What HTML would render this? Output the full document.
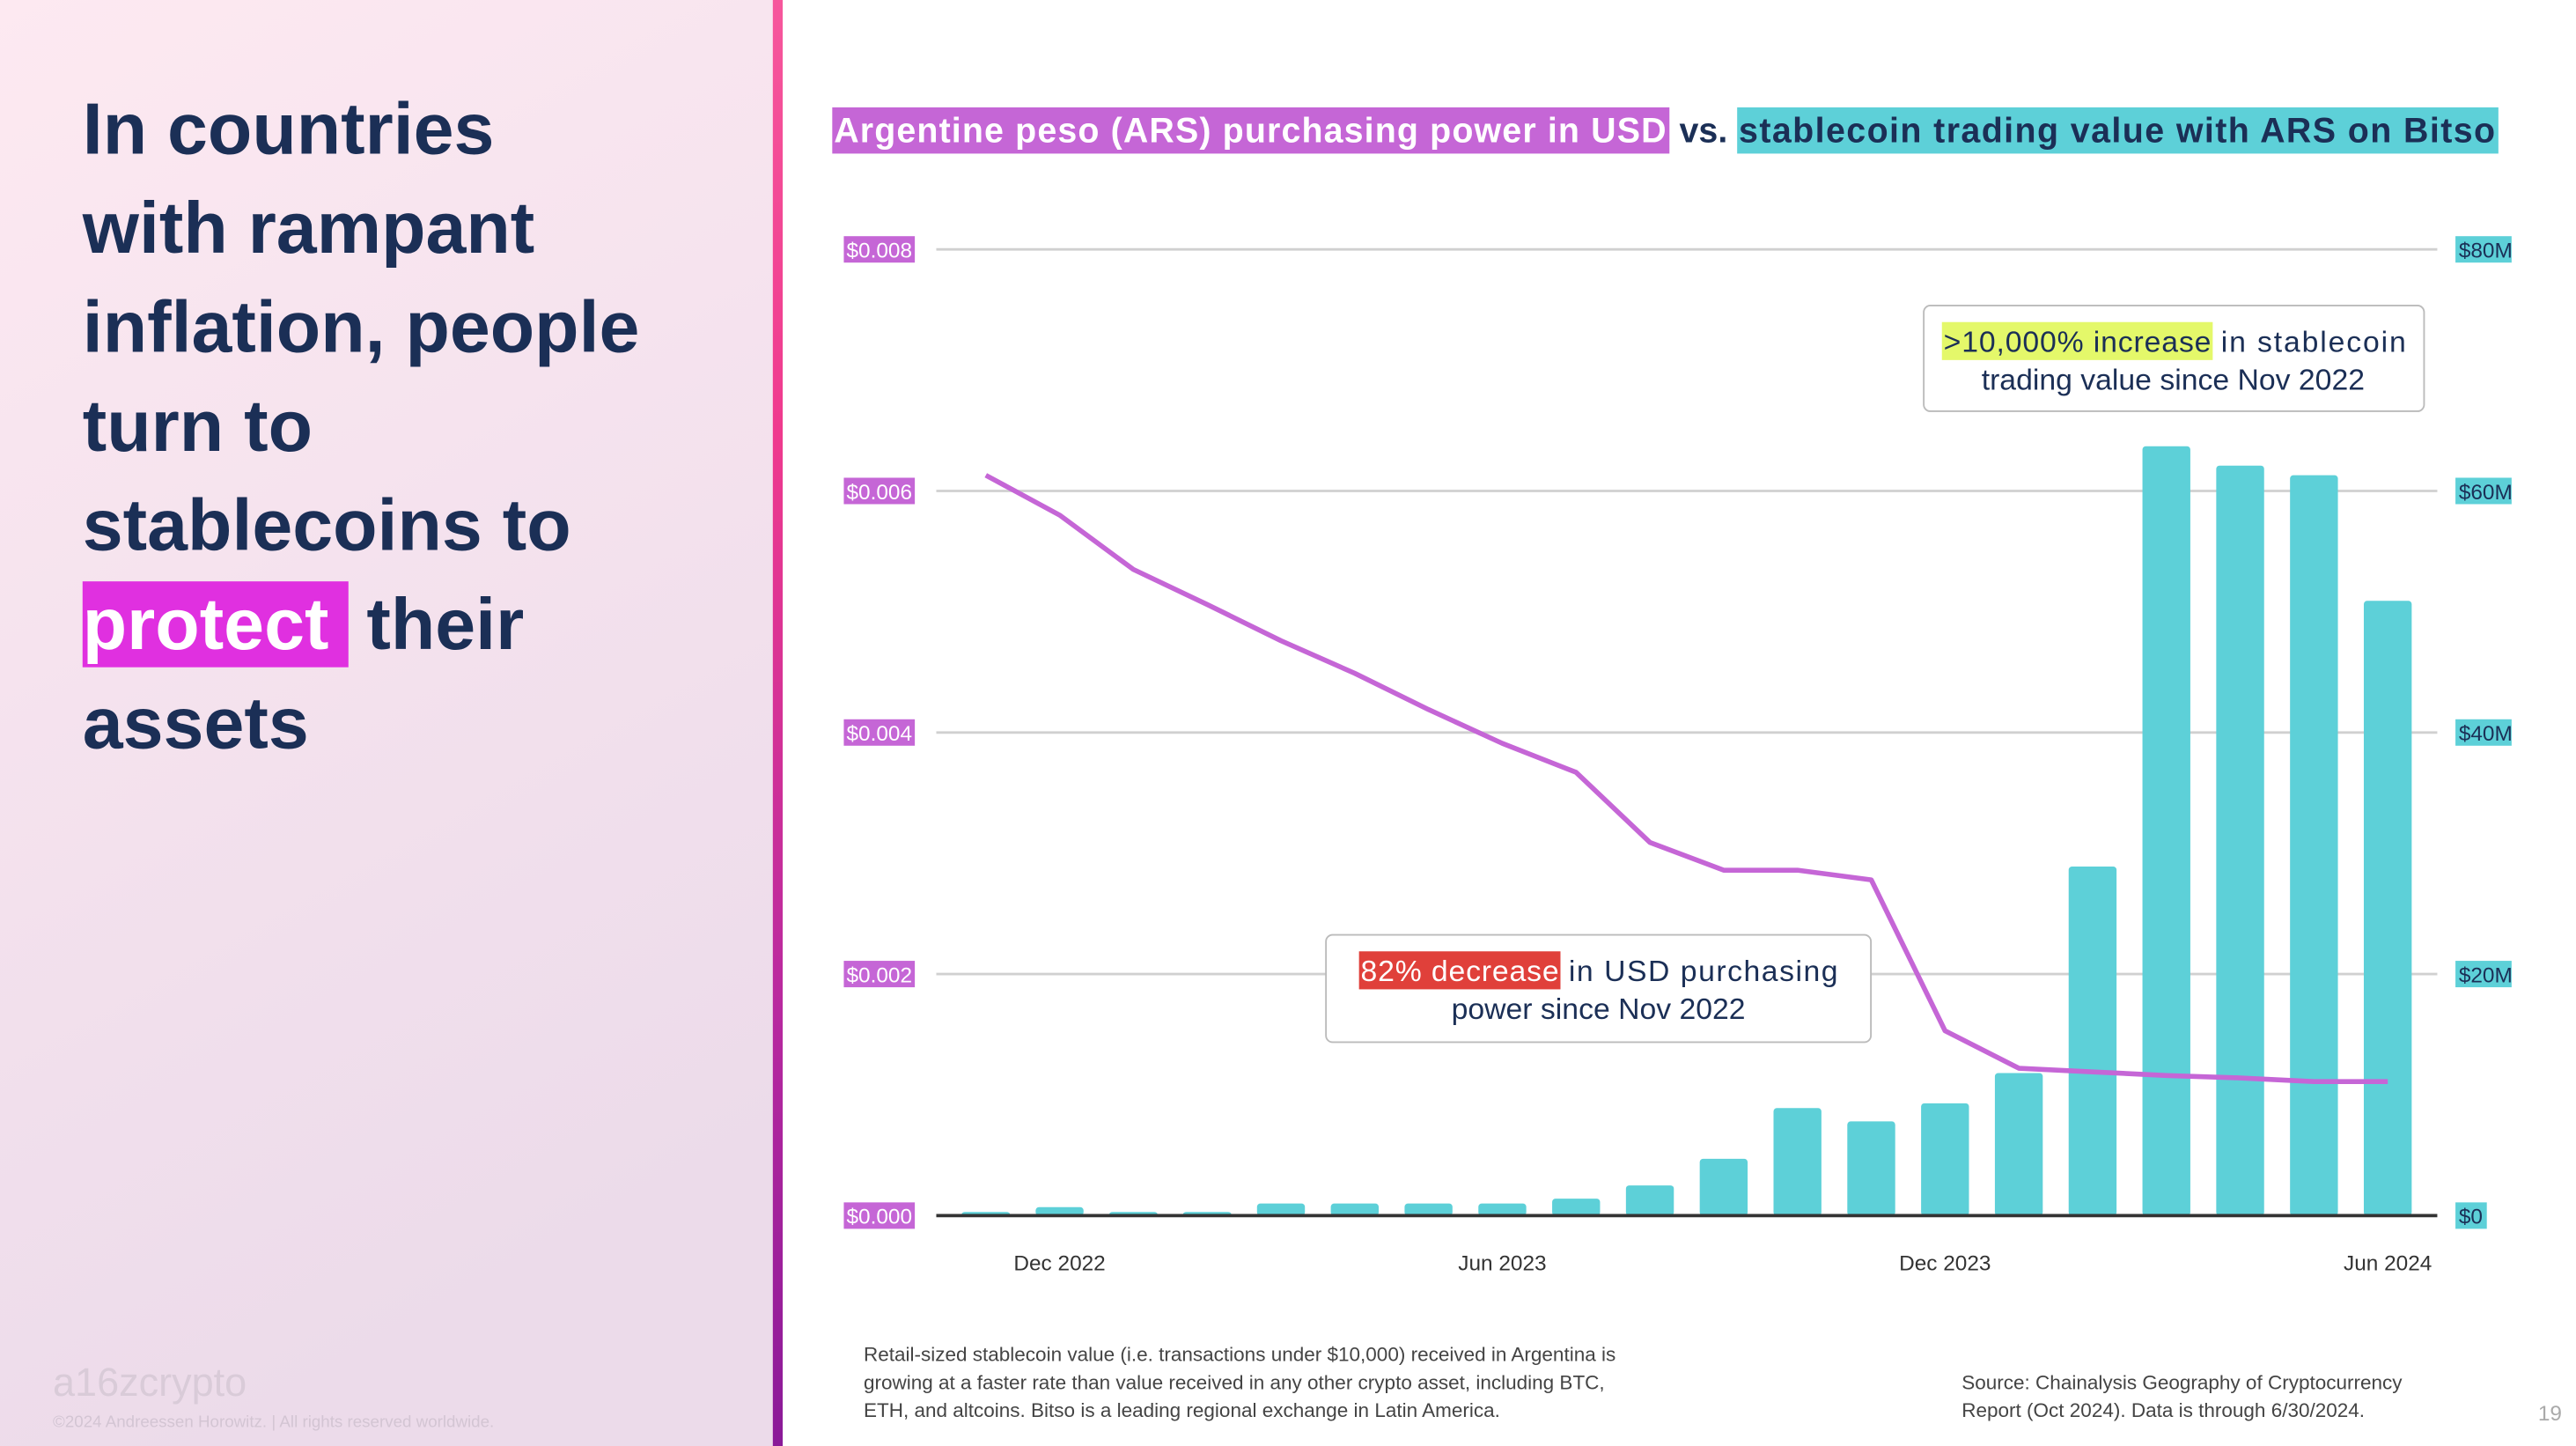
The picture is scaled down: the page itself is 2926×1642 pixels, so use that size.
<!DOCTYPE html>
<html><head><meta charset="utf-8"><style>
html,body{margin:0;padding:0;background:#fff}
svg{display:block}
text{font-family:"Liberation Sans",sans-serif}
</style></head><body>
<svg id="chart" width="2926" height="1642" viewBox="0 0 1560 875.5" preserveAspectRatio="none" xmlns="http://www.w3.org/2000/svg">
<defs>
<linearGradient id="lp" x1="0" y1="0" x2="0.3" y2="1"><stop offset="0" stop-color="#fde9f1"/><stop offset="1" stop-color="#ecdbea"/></linearGradient>
<linearGradient id="vb" x1="0" y1="0" x2="0" y2="1"><stop offset="0" stop-color="#f6579c"/><stop offset="0.3" stop-color="#ef3a8e"/><stop offset="0.7" stop-color="#b8299f"/><stop offset="1" stop-color="#8a1a98"/></linearGradient>
</defs>
<rect x="0" y="0" width="468" height="875.5" fill="url(#lp)"/>
<rect x="468" y="0" width="6" height="875.5" fill="url(#vb)"/>
<g font-size="44" font-weight="bold" fill="#1b2f56">
<text x="50" y="93">In countries</text>
<text x="50" y="153">with rampant</text>
<text x="50" y="213">inflation, people</text>
<text x="50" y="273">turn to</text>
<text x="50" y="333">stablecoins to</text>
<rect x="50" y="352" width="161" height="52" fill="#e030e0"/>
<text x="50" y="393" fill="#fff">protect</text>
<text x="222" y="393">their</text>
<text x="50" y="453">assets</text>
</g>
<text x="32" y="845" font-size="24" fill="#d9cbd8">a16zcrypto</text>
<text x="32" y="864" font-size="10" fill="#d3c5d3">©2024 Andreessen Horowitz.  |  All rights reserved worldwide.</text>
<g font-size="21" font-weight="bold">
<rect x="504" y="65" width="507" height="28" fill="#c566d6"/>
<text x="505" y="86" fill="#fff" textLength="504">Argentine peso (ARS) purchasing power in USD</text>
<text x="1017" y="86" fill="#1b2f56">vs.</text>
<rect x="1052" y="65" width="461" height="28" fill="#5dd0d8"/>
<text x="1053" y="86" fill="#1b2f56" textLength="458">stablecoin trading value with ARS on Bitso</text>
</g>
<g id="grid"></g><g id="bars"></g><g id="line"></g><g id="axes"></g>
<g>
<rect x="1165" y="185" width="303" height="64" rx="4" fill="#fff" stroke="#bbb"/>
<rect x="1176" y="195" width="164" height="23" fill="#e4f86a"/>
<text x="1177" y="213" font-size="18" fill="#1b2f56" textLength="162">&gt;10,000% increase</text>
<text x="1345" y="213" font-size="18" fill="#1b2f56" textLength="112">in stablecoin</text>
<text x="1316" y="236" font-size="18" fill="#1b2f56" text-anchor="middle">trading value since Nov 2022</text>
</g>
<g>
<rect x="803" y="566" width="330" height="65" rx="4" fill="#fff" stroke="#bbb"/>
<rect x="823" y="576" width="122" height="23" fill="#e0403a"/>
<text x="824" y="594" font-size="18" fill="#fff" textLength="120">82% decrease</text>
<text x="950" y="594" font-size="18" fill="#1b2f56" textLength="163">in USD purchasing</text>
<text x="968" y="617" font-size="18" fill="#1b2f56" text-anchor="middle">power since Nov 2022</text>
</g>
<g font-size="12" fill="#444">
<text x="523" y="824">Retail-sized stablecoin value (i.e. transactions under $10,000) received in Argentina is</text>
<text x="523" y="841">growing at a faster rate than value received in any other crypto asset, including BTC,</text>
<text x="523" y="858">ETH, and altcoins. Bitso is a leading regional exchange in Latin America.</text>
</g>
<g font-size="12" fill="#444">
<text x="1188" y="841">Source: Chainalysis Geography of Cryptocurrency</text>
<text x="1188" y="858">Report (Oct 2024). Data is through 6/30/2024.</text>
</g>
<text x="1537" y="860" font-size="13" fill="#aaa">19</text>
</svg>
<script>
const months = ["Nov 2022","Dec 2022","Jan 2023","Feb 2023","Mar 2023","Apr 2023","May 2023","Jun 2023","Jul 2023","Aug 2023","Sep 2023","Oct 2023","Nov 2023","Dec 2023","Jan 2024","Feb 2024","Mar 2024","Apr 2024","May 2024","Jun 2024"];
const stablecoinM = [0.3,0.7,0.3,0.3,1.0,1.0,1.0,1.0,1.4,2.5,4.7,8.9,7.8,9.3,11.8,28.9,63.7,62.1,61.3,50.9];
const arsUsd = [0.00613,0.00580,0.00535,0.00506,0.00476,0.00449,0.00419,0.00391,0.00367,0.00309,0.00286,0.00286,0.00278,0.00153,0.00122,0.00119,0.00116,0.00114,0.00111,0.00111];
const leftTicks = [0,0.002,0.004,0.006,0.008];
const leftTickLabels = ["$0.000","$0.002","$0.004","$0.006","$0.008"];
const rightTickLabels = ["$0","$20M","$40M","$60M","$80M"];
const xLabelIdx = [1,7,13,19];
const xLabels = ["Dec 2022","Jun 2023","Dec 2023","Jun 2024"];

const NS="http://www.w3.org/2000/svg";
const y0=736, yTop=151;
const yL=v=>y0-(v/0.008)*(y0-yTop);
const yR=v=>y0-(v/80)*(y0-yTop);
const xB=i=>597+i*(1446-597)/(months.length-1);
function mk(tag,attrs,parent){const e=document.createElementNS(NS,tag);for(const k in attrs)e.setAttribute(k,attrs[k]);parent.appendChild(e);return e;}
const grid=document.getElementById('grid'),bars=document.getElementById('bars'),line=document.getElementById('line'),axes=document.getElementById('axes');
leftTicks.forEach((t,i)=>{
  const y=yL(t);
  if(i>0){const g=mk('line',{x1:567,x2:1476,y1:y,y2:y,stroke:'#d0d0d0','stroke-width':1.5},grid);
  
  }
  const r=mk('rect',{x:511,y:y-8,width:43,height:16,fill:'#c566d6'},axes);
  
  
  const tx=mk('text',{x:532.5,y:y+5,'font-size':13,fill:'#fff','text-anchor':'middle'},axes);tx.textContent=leftTickLabels[i];
  
  
  const w=rightTickLabels[i].length*7.5+4;
  const r2=mk('rect',{x:1487,y:y-8,width:w,height:16,fill:'#5dd0d8'},axes);
  
  
  const t2=mk('text',{x:1489,y:y+5,'font-size':13,fill:'#1b2f56'},axes);t2.textContent=rightTickLabels[i];
  
  
});
stablecoinM.forEach((v,i)=>{
  const y=yR(v);
  const b=mk('rect',{x:xB(i)-14.5,y:y,width:29,height:y0-y,rx:2,fill:'#5dd0d8'},bars);
  
  
});
const pts=arsUsd.map((v,i)=>xB(i)+','+yL(v)).join(' ');
const pl=mk('polyline',{points:pts,fill:'none',stroke:'#c566d6','stroke-width':3,'stroke-linejoin':'round'},line);


const ax=mk('line',{x1:567,x2:1476,y1:y0,y2:y0,stroke:'#333','stroke-width':2},axes);


xLabelIdx.forEach((idx,j)=>{
  const t=mk('text',{x:xB(idx),y:769,'font-size':13,fill:'#333','text-anchor':'middle'},axes);t.textContent=xLabels[j];
  
  
});
</script>
</body></html>
